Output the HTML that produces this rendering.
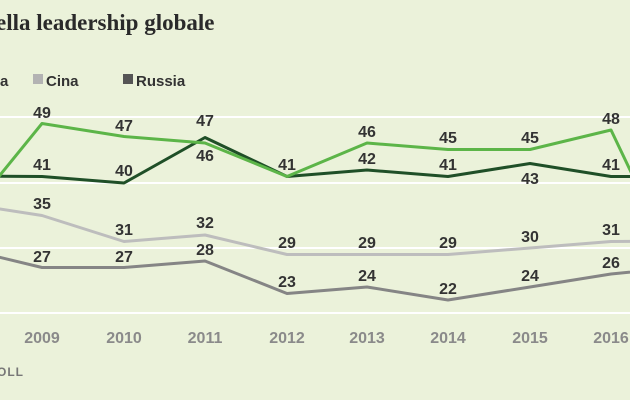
<!DOCTYPE html>
<html><head><meta charset="utf-8"><style>
html,body{margin:0;padding:0;background:#ebf2da;}
svg{display:block}
text{font-family:"Liberation Sans",Arial,sans-serif;font-weight:bold}
</style></head><body>
<svg width="630" height="400" viewBox="0 0 630 400" xmlns="http://www.w3.org/2000/svg">
<rect width="630" height="400" fill="#ebf2da"/>
<text x="-4" y="30" style="font-family:'Liberation Serif',serif;font-weight:bold" font-size="23" fill="#2a2a2a">ella leadership globale</text>
<text x="0" y="86" font-size="15" fill="#333">a</text>
<rect x="33" y="74" width="10" height="10" fill="#b3b3b3"/>
<text x="46" y="86" font-size="15" fill="#333">Cina</text>
<rect x="123" y="74" width="10" height="10" fill="#555"/>
<text x="136" y="86" font-size="15" fill="#333">Russia</text>
<g stroke="#fff" stroke-width="2">
<line x1="0" y1="117" x2="630" y2="117"/>
<line x1="0" y1="183" x2="630" y2="183"/>
<line x1="0" y1="248" x2="630" y2="248"/>
<line x1="0" y1="313" x2="630" y2="313"/>
</g>
<g fill="none" stroke-width="3" stroke-linejoin="round">
<polyline stroke="#bdbdbd" points="-39,203 42,215.5 124,241.5 205,235 287,254.5 367,254.5 448,254.5 530,248 611,241.5 692,241"/>
<polyline stroke="#858585" points="-39,248 42,267.5 124,267.5 205,261 287,293.5 367,287 448,300 530,287 611,274 692,266"/>
<polyline stroke="#1f4f27" points="-39,176 42,176.5 124,183 205,137.5 287,176.5 367,170 448,176.5 530,163.5 611,176.5 692,176.5"/>
<polyline stroke="#5cb548" points="-39,223 42,123.5 124,136.5 205,143 287,176.5 367,143 448,149.5 530,149.5 611,130 692,300"/>
</g>
<g font-size="16" fill="#333" text-anchor="middle">
<text x="42" y="118">49</text><text x="124" y="131">47</text><text x="205" y="161">46</text><text x="287" y="170">41</text><text x="367" y="137">46</text><text x="448" y="143">45</text><text x="530" y="143">45</text><text x="611" y="124">48</text>
<text x="42" y="170">41</text><text x="124" y="176">40</text><text x="205" y="126">47</text><text x="367" y="164">42</text><text x="448" y="170">41</text><text x="530" y="184">43</text><text x="611" y="170">41</text>
<text x="42" y="209">35</text><text x="124" y="235">31</text><text x="205" y="228">32</text><text x="287" y="248">29</text><text x="367" y="248">29</text><text x="448" y="248">29</text><text x="530" y="242">30</text><text x="611" y="235">31</text>
<text x="42" y="262">27</text><text x="124" y="262">27</text><text x="205" y="255">28</text><text x="287" y="287">23</text><text x="367" y="281">24</text><text x="448" y="294">22</text><text x="530" y="281">24</text><text x="611" y="268">26</text>
</g>
<g font-size="16" fill="#8a8a8a" text-anchor="middle">
<text x="42" y="343">2009</text><text x="124" y="343">2010</text><text x="205" y="343">2011</text><text x="287" y="343">2012</text><text x="367" y="343">2013</text><text x="448" y="343">2014</text><text x="530" y="343">2015</text><text x="611" y="343">2016</text>
</g>
<text x="-3" y="376" font-size="12" fill="#777" letter-spacing="1">OLL</text>
</svg>
</body></html>
